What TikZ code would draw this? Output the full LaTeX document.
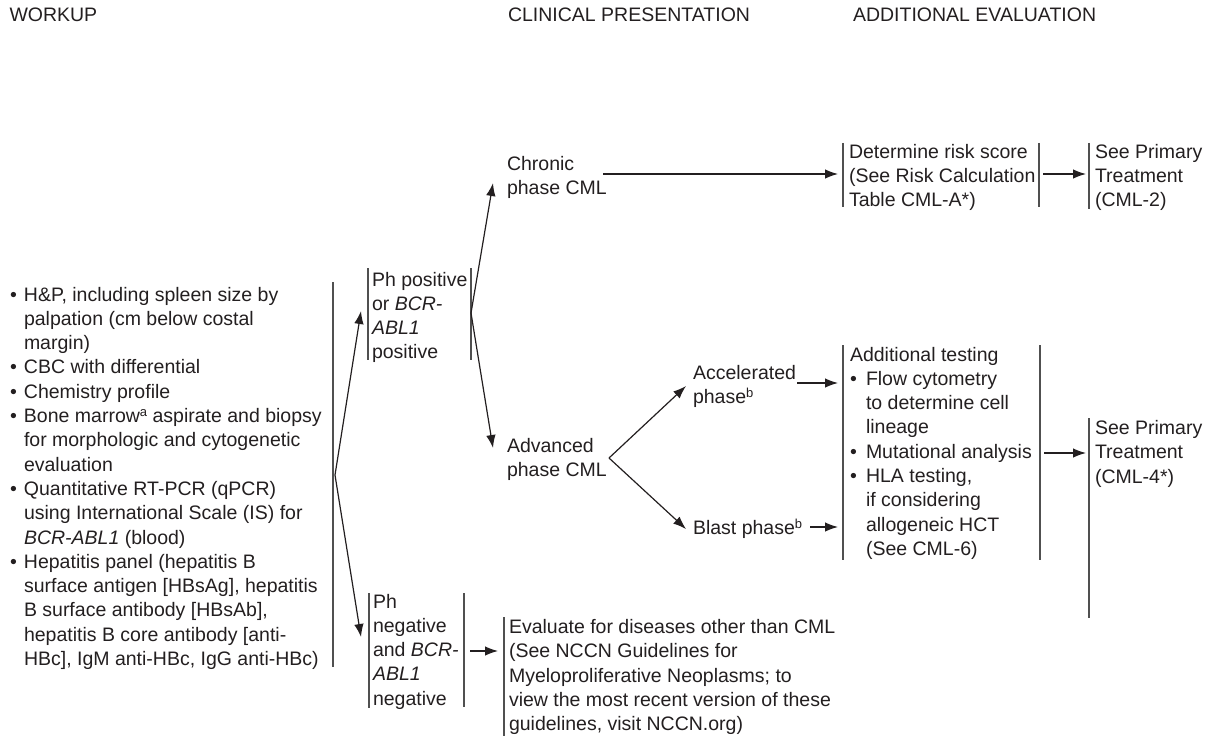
\documentclass[tikz,border=0pt]{standalone}
\usepackage{fontspec}
\setmainfont{Liberation Sans}
\usetikzlibrary{arrows.meta}
\definecolor{ink}{HTML}{231F20}
\definecolor{rulec}{HTML}{505050}
\newcommand{\fs}{\fontsize{19.5}{24.3}\selectfont}
\newcommand{\sups}[1]{\raisebox{0.55ex}{\fontsize{13}{13}\selectfont #1}}
\newcommand{\bulA}{\makebox[14pt][l]{•}}
\newcommand{\indA}{\hspace*{14pt}}
\newcommand{\bulB}{\makebox[16pt][l]{•}}
\newcommand{\indB}{\hspace*{16pt}}
\begin{document}
\begin{tikzpicture}[x=1pt,y=-1pt,
  every node/.style={inner sep=0pt,outer sep=0pt,text=ink,font=\fs},
  lbl/.style={anchor=base west,align=left},
  arr/.style={draw=ink,line width=1.2pt,-{Latex[length=13pt,width=9.5pt]}},
  side/.style={draw=rulec,line width=1.2pt}]
\useasboundingbox (0,0) rectangle (1222,738);

% headers
\node[lbl] (hWork) at (9.5,21.3) {WORKUP};
\node[lbl] (hClin) at (508,21.3) {CLINICAL PRESENTATION};
\node[lbl] (hAdd) at (853,21.3) {ADDITIONAL EVALUATION};

% workup list (base anchor = baseline of last line)
\node[lbl] (workup) at (10,665.5) {\bulA H\&P, including spleen size by\\
\indA palpation (cm below costal\\
\indA margin)\\
\bulA CBC with differential\\
\bulA Chemistry profile\\
\bulA Bone marrow\sups{a} aspirate and biopsy\\
\indA for morphologic and cytogenetic\\
\indA evaluation\\
\bulA Quantitative RT-PCR (qPCR)\\
\indA using International Scale (IS) for\\
\indA \textit{BCR-ABL1} (blood)\\
\bulA Hepatitis panel (hepatitis B\\
\indA surface antigen [HBsAg], hepatitis\\
\indA B surface antibody [HBsAb],\\
\indA hepatitis B core antibody [anti-\\
\indA HBc], IgM anti-HBc, IgG anti-HBc)};
\coordinate (wTop) at (333,282);
\coordinate (wBot) at (333,667);
\draw[side] (wTop) -- (wBot);
\coordinate (wApex) at (335,475);

% Ph positive
\node[lbl] (phpos) at (372,358.9) {Ph positive\\or \textit{BCR-}\\\textit{ABL1}\\positive};
\coordinate (pposTL) at (368,268); \coordinate (pposBL) at (368,360);
\coordinate (pposTR) at (471,268); \coordinate (pposBR) at (471,360);
\draw[side] (pposTL) -- (pposBL);
\draw[side] (pposTR) -- (pposBR);
\coordinate (pposIn) at (361,311);
\coordinate (pposApex) at (471,313);

% Ph negative
\node[lbl] (phneg) at (373,705.2) {Ph\\negative\\and \textit{BCR-}\\\textit{ABL1}\\negative};
\coordinate (pnegTL) at (369,593); \coordinate (pnegBL) at (369,708);
\coordinate (pnegTR) at (464,593); \coordinate (pnegBR) at (464,707);
\draw[side] (pnegTL) -- (pnegBL);
\draw[side] (pnegTR) -- (pnegBR);
\coordinate (pnegIn) at (361,637);
\coordinate (pnegOut) at (470,651);

\draw[arr] (wApex) -- (pposIn);
\draw[arr] (wApex) -- (pnegIn);

% Evaluate
\node[lbl] (eval) at (509,730.7) {Evaluate for diseases other than CML\\(See NCCN Guidelines for\\Myeloproliferative Neoplasms; to\\view the most recent version of these\\guidelines, visit NCCN.org)};
\coordinate (evalT) at (504,617); \coordinate (evalB) at (504,736);
\draw[side] (evalT) -- (evalB);
\coordinate (evalIn) at (498,651);
\draw[arr] (pnegOut) -- (evalIn);

% Chronic
\node[lbl] (chronic) at (507,194.3) {Chronic\\phase CML};
\coordinate (chrIn) at (493,183);
\coordinate (chrOut) at (603,174);
\draw[arr] (pposApex) -- (chrIn);

% Advanced
\node[lbl] (adv) at (507,476.3) {Advanced\\phase CML};
\coordinate (advIn) at (493,448);
\coordinate (advApex) at (609,458);
\draw[arr] (pposApex) -- (advIn);

% Risk box
\node[lbl] (risk) at (849,206.6) {Determine risk score\\(See Risk Calculation\\Table CML-A*)};
\coordinate (riskTL) at (843,143); \coordinate (riskBL) at (843,207);
\coordinate (riskTR) at (1039,143); \coordinate (riskBR) at (1039,207);
\draw[side] (riskTL) -- (riskBL);
\draw[side] (riskTR) -- (riskBR);
\coordinate (riskIn) at (838,174);
\coordinate (riskOut) at (1043,174);
\draw[arr] (chrOut) -- (riskIn);

% Primary 1
\node[lbl] (prim1) at (1095,206.6) {See Primary\\Treatment\\(CML-2)};
\coordinate (p1T) at (1089,143); \coordinate (p1B) at (1089,209);
\draw[side] (p1T) -- (p1B);
\coordinate (p1In) at (1086,174);
\draw[arr] (riskOut) -- (p1In);

% Accelerated / Blast
\node[lbl] (accel) at (693,403.3) {Accelerated\\phase\sups{b}};
\node[lbl] (blast) at (693,534) {Blast phase\sups{b}};
\coordinate (accIn) at (686,386);
\coordinate (blastIn) at (686,529);
\draw[arr] (advApex) -- (accIn);
\draw[arr] (advApex) -- (blastIn);
\coordinate (accOut) at (797,383);
\coordinate (blastOut) at (810,527);

% Additional testing
\node[lbl] (addl) at (850,555.4) {Additional testing\\
\bulB Flow cytometry\\
\indB to determine cell\\
\indB lineage\\
\bulB Mutational analysis\\
\bulB HLA testing,\\
\indB if considering\\
\indB allogeneic HCT\\
\indB (See CML-6)};
\coordinate (addTL) at (843,345); \coordinate (addBL) at (843,560);
\coordinate (addTR) at (1040,345); \coordinate (addBR) at (1040,560);
\draw[side] (addTL) -- (addBL);
\draw[side] (addTR) -- (addBR);
\coordinate (addInA) at (838,383);
\coordinate (addInB) at (838,527);
\coordinate (addOut) at (1044,453);
\draw[arr] (accOut) -- (addInA);
\draw[arr] (blastOut) -- (addInB);

% Primary 2
\node[lbl] (prim2) at (1095,483.1) {See Primary\\Treatment\\(CML-4*)};
\coordinate (p2T) at (1089,418); \coordinate (p2B) at (1089,618);
\draw[side] (p2T) -- (p2B);
\coordinate (p2In) at (1086,453);
\draw[arr] (addOut) -- (p2In);
\end{tikzpicture}
\end{document}
